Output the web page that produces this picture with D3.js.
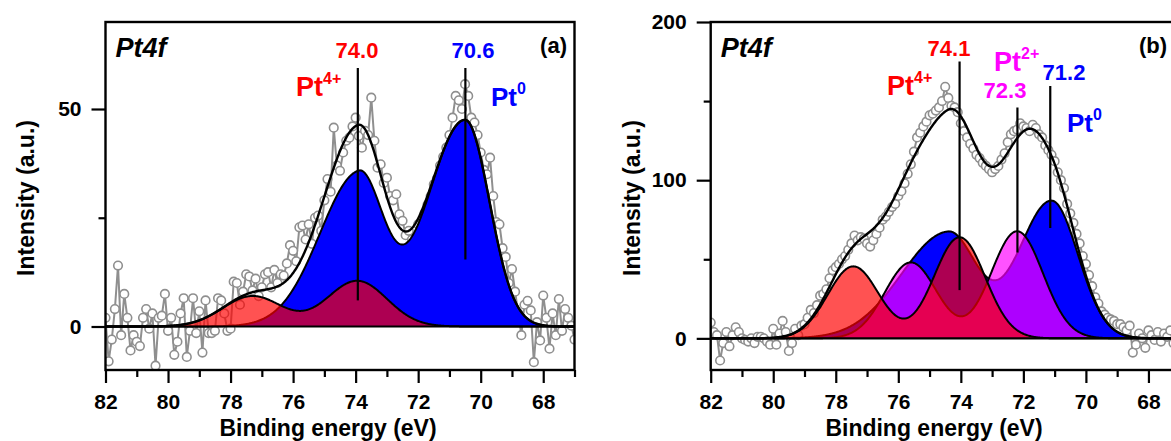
<!DOCTYPE html>
<html>
<head>
<meta charset="utf-8">
<script src="https://cdn.jsdelivr.net/npm/d3@7"></script>
<style>
body { margin: 0; background: #fff; }
text { font-family: "Liberation Sans", Arial, sans-serif; font-weight: bold; }
</style>
</head>
<body>
<svg id="chart" width="1171" height="441"></svg>
<script>
// energy grid of the measured points: 82.0 eV down to 67.0 eV, step 0.1
var E_START = 82, E_STEP = 0.1;

var xTicks = [82, 80, 78, 76, 74, 72, 70, 68];
var xMinor = [81, 79, 77, 75, 73, 71, 69, 67];
var yTicksA = [0, 50], yMinorA = [25];
var yTicksB = [0, 100, 200], yMinorB = [50, 150];

var pointsA = [
    2, -8, -3, 4, 14, -2, 7.5, 2, -5.5, -2,
    -3.5, -4.5, 2, 4, -0.5, 3, -9, 2, 2.5, 7.5,
    -1, 2, -6.5, -3.5, 3, 6.5, -7, -1, 6.5, -1.5,
    3.5, -6, 6, -1.5, -1.5, -1, 6.5, 6, 3, -1,
    -0.5, 10.3, 10, 5, 8, 12, 11.5, 8.3, 11, 7,
    9, 12, 12.5, 9, 13, 10, 12, 11.7, 14.5, 18.7,
    17.4, 15, 22.8, 23.2, 20, 23.5, 19, 25, 25.5, 22,
    29, 33.9, 31, 45.7, 37, 35.8, 40, 42.7, 43.4, 46,
    48, 43.8, 41.1, 45, 44, 52.6, 42.7, 36.5, 37.3, 33,
    34.2, 30, 29, 30.4, 25.8, 24.3, 21, 22, 20, 19,
    23.5, 22, 26, 28, 30, 32.7, 34, 37, 39, 41.1,
    44, 48, 53, 52, 50, 55.7, 53, 48, 46.9, 44,
    40, 36, 35, 38.8, 30, 24, 23.5, 18, 16, 10,
    13.2, 8, 3, -2, 5, 5.9, 3.7, -8.2, 1, -3.2,
    7.1, 2, -5.1, 3, -2, 6.3, -1, 4, 2, 0.2,
    -3
];

var pointsB = [
    10, 4, 2, -14, -3, 4, -5, 2, 7, 4,
    0, -1, -2, 0, -3, 1, 1, 0, -2, -4,
    6, -4, 3, 11, 4, -8, -3, 6, 2, 8,
    9, 13, 18, 16, 21, 27, 28, 31, 38, 43,
    45, 47, 50, 52, 56, 60, 65, 62, 64, 63,
    60, 58, 62, 66, 70, 75, 77, 80, 83, 85,
    90, 93, 98, 104, 110, 118, 127, 130, 134, 137,
    141, 142, 144, 146, 150, 159, 152, 147, 146, 143,
    136, 131, 127, 123, 120, 116, 114, 111, 109, 107,
    105, 107, 109, 113, 117, 124, 129, 131, 132, 136,
    134, 133, 131, 135, 133, 129, 127, 122, 119, 116,
    112, 105, 100, 95, 85, 79, 73, 66, 60, 52,
    47, 40, 33, 26, 22, 17, 15, 13, 12, 11,
    9, 9, 7, 5, 8, -9, -4, 3, 0, -6,
    5, 2, -1, 4, -2, 3, 1, 5, -3, 2,
    6
];

// fitted peaks: [centre eV, height, sigma on high-BE side, sigma on low-BE side]
var pt0A = [[70.5, 47.5, 1.2, 0.78], [73.9, 35, 1.25, 0.78]];
var pt4A = [[73.95, 10.5, 0.95, 0.95], [77.3, 7, 0.95, 0.95]];

var pt0B = [[71.1, 87, 1.05, 0.85], [74.4, 67, 1.5, 0.9]];
var pt2B = [[72.2, 67.7, 0.83, 0.83], [75.6, 48, 0.83, 0.83]];
var pt4B = [[74.04, 63.9, 0.82, 0.82], [77.44, 45.5, 0.82, 0.82]];

// peak marker lines: [eV, bottom, top]
var linesA = [[73.93, 6, 59.4], [70.49, 15.4, 59.4]];
var linesB = [[74.04, 30.5, 175], [72.19, 54.3, 146], [71.14, 69.8, 159.5]];

var svg = d3.select("#chart");
var grid = d3.range(67, 82.0001, 0.02);

function peakSum(peaks, e) {
    var s = 0;
    peaks.forEach(function (p) {
        var sig = e > p[0] ? p[2] : p[3];
        s += p[1] * Math.exp(-(e - p[0]) * (e - p[0]) / (2 * sig * sig));
    });
    return s;
}

function panel(o) {
    var top = 22, bottom = 370;
    var x = d3.scaleLinear().domain([82, 67]).range([o.left, o.left + 469]);
    var y = d3.scaleLinear().domain(o.yDomain).range([bottom, top]);
    var g = svg.append("g");

    g.append("clipPath").attr("id", "clip" + o.id)
        .append("rect")
        .attr("x", x(82)).attr("y", top)
        .attr("width", x(67) - x(82)).attr("height", bottom - top);

    var plot = g.append("g").attr("clip-path", "url(#clip" + o.id + ")");

    var pts = o.points.map(function (v, i) {
        return {e: E_START - i * E_STEP, v: v};
    });

    plot.append("path")
        .datum(pts)
        .attr("fill", "none")
        .attr("stroke", "#8f8f8f")
        .attr("stroke-width", 2)
        .attr("d", d3.line().x(function (d) { return x(d.e); }).y(function (d) { return y(d.v); }));

    plot.selectAll("circle")
        .data(pts)
        .enter()
        .append("circle")
        .attr("cx", function (d) { return x(d.e); })
        .attr("cy", function (d) { return y(d.v); })
        .attr("r", 4.3)
        .attr("fill", "#fff")
        .attr("stroke", "#8f8f8f")
        .attr("stroke-width", 1.6);

    var area = d3.area()
        .x(function (d) { return x(d[0]); })
        .y0(y(0))
        .y1(function (d) { return y(d[1]); });
    var line = d3.line()
        .x(function (d) { return x(d[0]); })
        .y(function (d) { return y(d[1]); });

    o.comps.forEach(function (c) {
        var data = grid.map(function (e) { return [e, peakSum(c.peaks, e)]; });
        plot.append("path").datum(data)
            .attr("fill", c.color).attr("fill-opacity", c.opacity)
            .attr("d", area);
        plot.append("path").datum(data)
            .attr("fill", "none").attr("stroke", "#000").attr("stroke-width", 2)
            .attr("d", line);
    });

    var env = grid.map(function (e) {
        var s = 0;
        o.comps.forEach(function (c) { s += peakSum(c.peaks, e); });
        return [e, s];
    });
    plot.append("path").datum(env)
        .attr("fill", "none").attr("stroke", "#000").attr("stroke-width", 2.4)
        .attr("d", line);

    plot.append("line")
        .attr("x1", x(82)).attr("x2", x(67))
        .attr("y1", y(0)).attr("y2", y(0))
        .attr("stroke", "#000").attr("stroke-width", 2.2);

    plot.selectAll(".marker")
        .data(o.markers)
        .enter()
        .append("line")
        .attr("x1", function (d) { return x(d[0]); })
        .attr("x2", function (d) { return x(d[0]); })
        .attr("y1", function (d) { return y(d[1]); })
        .attr("y2", function (d) { return y(d[2]); })
        .attr("stroke", "#000").attr("stroke-width", 2.2);

    // axes
    var xa = g.append("g").attr("transform", "translate(0," + bottom + ")")
        .call(d3.axisBottom(x).tickValues(xTicks).tickSize(13).tickPadding(11));
    var xm = g.append("g").attr("transform", "translate(0," + bottom + ")")
        .call(d3.axisBottom(x).tickValues(xMinor).tickSize(7).tickFormat(""));
    var ya = g.append("g").attr("transform", "translate(" + x(82) + ",0)")
        .call(d3.axisLeft(y).tickValues(o.yTicks).tickSize(14).tickPadding(10));
    var ym = g.append("g").attr("transform", "translate(" + x(82) + ",0)")
        .call(d3.axisLeft(y).tickValues(o.yMinor).tickSize(7).tickFormat(""));
    [xa, xm, ya, ym].forEach(function (a) {
        a.select(".domain").remove();
        a.selectAll("line").attr("stroke", "#000").attr("stroke-width", 2.2);
        a.selectAll("text").attr("fill", "#000")
            .style("font-size", "21px")
            .style("font-family", '"Liberation Sans", Arial, sans-serif')
            .style("font-weight", "bold");
    });

    g.append("rect")
        .attr("x", x(82)).attr("y", top)
        .attr("width", x(67) - x(82)).attr("height", bottom - top)
        .attr("fill", "none").attr("stroke", "#000").attr("stroke-width", 2.4);

    g.append("text")
        .attr("x", o.titleX).attr("y", 436)
        .attr("text-anchor", "middle")
        .style("font-size", "23px")
        .text("Binding energy (eV)");
    g.append("text")
        .attr("transform", "translate(" + o.ylabX + ",198) rotate(-90)")
        .attr("text-anchor", "middle")
        .style("font-size", "23px")
        .text("Intensity (a.u.)");

    g.append("text")
        .attr("x", x(82) + 10).attr("y", 57)
        .style("font-size", "27px").style("font-style", "italic")
        .text("Pt4f");

    o.labels.forEach(function (t) {
        var tx = g.append("text")
            .attr("x", t.x).attr("y", t.y)
            .attr("fill", t.color)
            .attr("text-anchor", t.anchor || "start")
            .style("font-size", t.size + "px")
            .text(t.text);
        if (t.sup) {
            tx.append("tspan")
                .attr("dy", -t.size * 0.45)
                .style("font-size", "16px")
                .text(t.sup);
        }
    });
}

panel({
    id: "a", left: 105.5, yDomain: [-10, 70],
    yTicks: yTicksA, yMinor: yMinorA,
    points: pointsA,
    comps: [
        {peaks: pt0A, color: "#0000ff", opacity: 1},
        {peaks: pt4A, color: "#ff0000", opacity: 0.68}
    ],
    markers: linesA,
    titleX: 328, ylabX: 34,
    labels: [
        {x: 357, y: 58, text: "74.0", color: "#ff0000", size: 22, anchor: "middle"},
        {x: 473, y: 58, text: "70.6", color: "#0000ff", size: 22, anchor: "middle"},
        {x: 296, y: 96, text: "Pt", sup: "4+", color: "#ff0000", size: 27},
        {x: 491, y: 106, text: "Pt", sup: "0", color: "#0000ff", size: 26},
        {x: 567, y: 53, text: "(a)", color: "#000", size: 22, anchor: "end"}
    ]
});

panel({
    id: "b", left: 710.7, yDomain: [-20, 200],
    yTicks: yTicksB, yMinor: yMinorB,
    points: pointsB,
    comps: [
        {peaks: pt0B, color: "#0000ff", opacity: 1},
        {peaks: pt2B, color: "#ff00ff", opacity: 0.68},
        {peaks: pt4B, color: "#ff0000", opacity: 0.68}
    ],
    markers: linesB,
    titleX: 934, ylabX: 640,
    labels: [
        {x: 949, y: 56, text: "74.1", color: "#ff0000", size: 22, anchor: "middle"},
        {x: 1005, y: 98, text: "72.3", color: "#ff00ff", size: 22, anchor: "middle"},
        {x: 1064, y: 80, text: "71.2", color: "#0000ff", size: 22, anchor: "middle"},
        {x: 887, y: 95, text: "Pt", sup: "4+", color: "#ff0000", size: 27},
        {x: 994, y: 71, text: "Pt", sup: "2+", color: "#ff00ff", size: 27},
        {x: 1067, y: 132, text: "Pt", sup: "0", color: "#0000ff", size: 26},
        {x: 1167, y: 53, text: "(b)", color: "#000", size: 22, anchor: "end"}
    ]
});
</script>
</body>
</html>
